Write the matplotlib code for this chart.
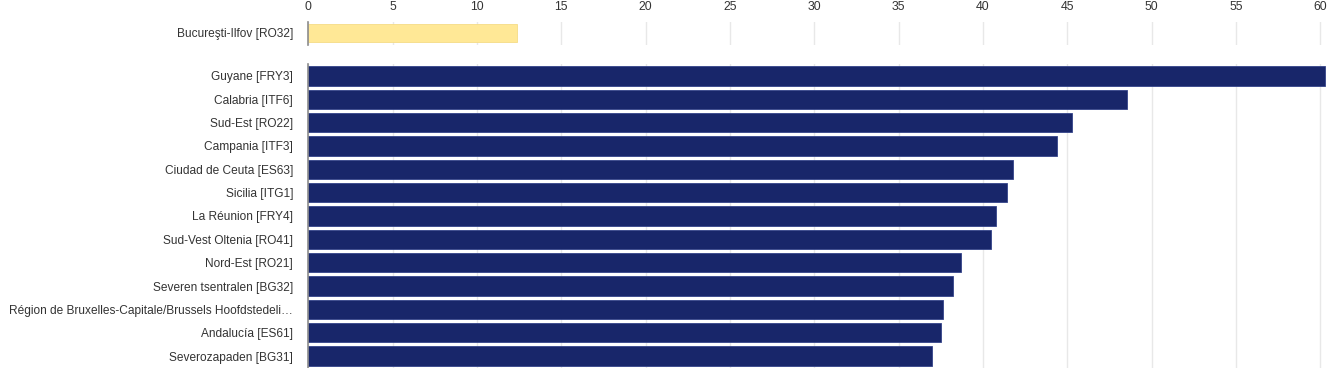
import matplotlib
matplotlib.use("Agg")
import matplotlib.pyplot as plt

plt.rcParams['font.family'] = ['Liberation Sans', 'DejaVu Sans']

highlight_label = ["Bucureşti-Ilfov [RO32]"]
highlight_value = [12.35]

regions = [
    "Guyane [FRY3]",
    "Calabria [ITF6]",
    "Sud-Est [RO22]",
    "Campania [ITF3]",
    "Ciudad de Ceuta [ES63]",
    "Sicilia [ITG1]",
    "La Réunion [FRY4]",
    "Sud-Vest Oltenia [RO41]",
    "Nord-Est [RO21]",
    "Severen tsentralen [BG32]",
    "Région de Bruxelles-Capitale/Brussels Hoofdstedeli…",
    "Andalucía [ES61]",
    "Severozapaden [BG31]",
]
values = [60.3, 48.55, 45.3, 44.4, 41.8, 41.4, 40.8, 40.5, 38.7, 38.2, 37.6, 37.5, 37.0]

xticks = [0, 5, 10, 15, 20, 25, 30, 35, 40, 45, 50, 55, 60]

W, H = 1344, 368
fig = plt.figure(figsize=(W / 100, H / 100), dpi=100)

left = 308.2 / W
xmax = 60.8
right = (308.2 + xmax * 16.87) / W

def frac(top_px, bottom_px):
    return 1 - bottom_px / H, (bottom_px - top_px) / H

b1, h1 = frac(21.5, 44.5)
ax1 = fig.add_axes([left, b1, right - left, h1])
b2, h2 = frac(64.3, 367.7)
ax2 = fig.add_axes([left, b2, right - left, h2])

navy = "#18266a"
yellow = "#ffe896"
text_col = "#333333"
grid_col = "#e8e8e8"
fs = 8.55

ax1.barh([0], highlight_value, height=0.75, color=yellow, edgecolor="#f5dc86", linewidth=0.6, zorder=2)
ax1.set_yticks([0])
ax1.set_yticklabels(highlight_label)
ax1.set_ylim(0.5, -0.5)

ypos = list(range(len(regions)))
ax2.barh(ypos, values, height=0.82, color=navy, edgecolor="#34448a", linewidth=0.6, zorder=2)
ax2.set_yticks(ypos)
ax2.set_yticklabels(regions)
ax2.set_ylim(len(regions) - 0.5, -0.5)

for ax in (ax1, ax2):
    ax.set_xlim(0, xmax)
    ax.set_xticks(xticks)
    ax.grid(axis="x", color=grid_col, linewidth=1, zorder=0)
    ax.set_axisbelow(True)
    for s in ("top", "right", "bottom"):
        ax.spines[s].set_visible(False)
    ax.spines["left"].set_color("#8c8c8c")
    ax.spines["left"].set_linewidth(1.2)
    ax.tick_params(axis="y", length=0, pad=10.8, labelsize=fs, labelcolor=text_col)
    ax.tick_params(axis="x", length=0)

ax1.xaxis.tick_top()
ax1.tick_params(axis="x", labeltop=True, labelbottom=False, pad=6, labelsize=8.8, labelcolor=text_col)
ax1.set_xticklabels([str(t) for t in xticks])
ax2.tick_params(axis="x", labelbottom=False, labeltop=False)

fig.savefig("out.png", dpi=100)
